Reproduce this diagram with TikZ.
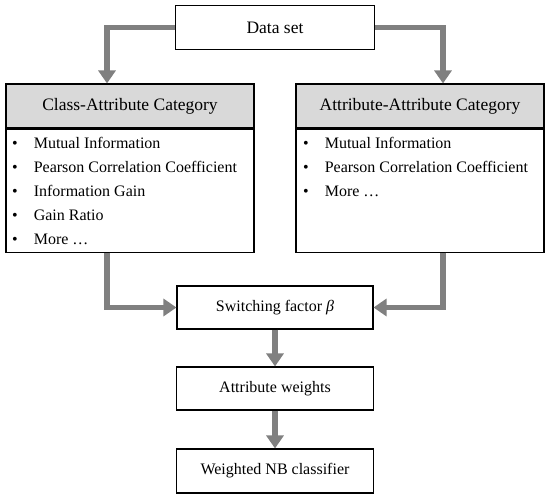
\documentclass[tikz,border=0pt]{standalone}
\usepackage{fontspec}
\setmainfont{Liberation Serif}
\usetikzlibrary{arrows.meta}
\definecolor{arrgray}{RGB}{128,128,128}
\definecolor{hdrgray}{RGB}{217,217,217}
\begin{document}
\begin{tikzpicture}[x=1pt,y=-1pt,
 box/.style={draw=black,line width=1.1pt,fill=white,inner sep=0pt,minimum width=197pt,minimum height=43pt,font=\fontsize{16}{19}\selectfont},
 hdr/.style={draw=black,line width=1.1pt,fill=hdrgray,inner sep=0pt,minimum width=248pt,minimum height=44pt,font=\fontsize{17.5}{21}\selectfont},
 body/.style={draw=black,line width=1.1pt,fill=white,inner sep=0pt,minimum width=248pt,minimum height=123pt},
 flow/.style={draw=arrgray,line width=5.5pt,-{Triangle[width=17pt,length=13pt]}},
 items/.style={anchor=base west,inner sep=0pt,font=\fontsize{16}{24}\selectfont}]
\useasboundingbox (0,0) rectangle (550,498);

\node[box,minimum width=199pt,minimum height=44pt,font=\fontsize{17.5}{21}\selectfont] (ds) at (275,27.5) {Data set};

\node[hdr] (clh) at (130,106) {Class-Attribute Category};
\node[body,anchor=north] (clb) at (clh.south) {};
\node[hdr] (crh) at (420,106) {Attribute-Attribute Category};
\node[body,anchor=north] (crb) at (crh.south) {};

\node[items] (cli) at (12,148) {\begin{tabular}[t]{@{}l@{\hspace{16pt}}l@{}}
• & Mutual Information\\
• & Pearson Correlation Coefficient\\
• & Information Gain\\
• & Gain Ratio\\
• & More …
\end{tabular}};
\node[items] (cri) at (303,148) {\begin{tabular}[t]{@{}l@{\hspace{16pt}}l@{}}
• & Mutual Information\\
• & Pearson Correlation Coefficient\\
• & More …
\end{tabular}};

\node[box,minimum width=196pt] (sw) at (275,307.5) {Switching factor \textit{β}};
\node[box] (aw) at (275,388.5) {Attribute weights};
\node[box,minimum height=44pt] (nb) at (275,471) {Weighted NB classifier};

\draw[flow] (ds.west) -| ([xshift=-23pt]clh.north);
\draw[flow] (ds.east) -| ([xshift=23pt]crh.north);
\draw[flow] ([xshift=-23pt]clb.south) |- (sw.west);
\draw[flow] ([xshift=23pt]crb.south) |- (sw.east);
\draw[flow] (sw.south) -- (aw.north);
\draw[flow] (aw.south) -- (nb.north);
\end{tikzpicture}
\end{document}
